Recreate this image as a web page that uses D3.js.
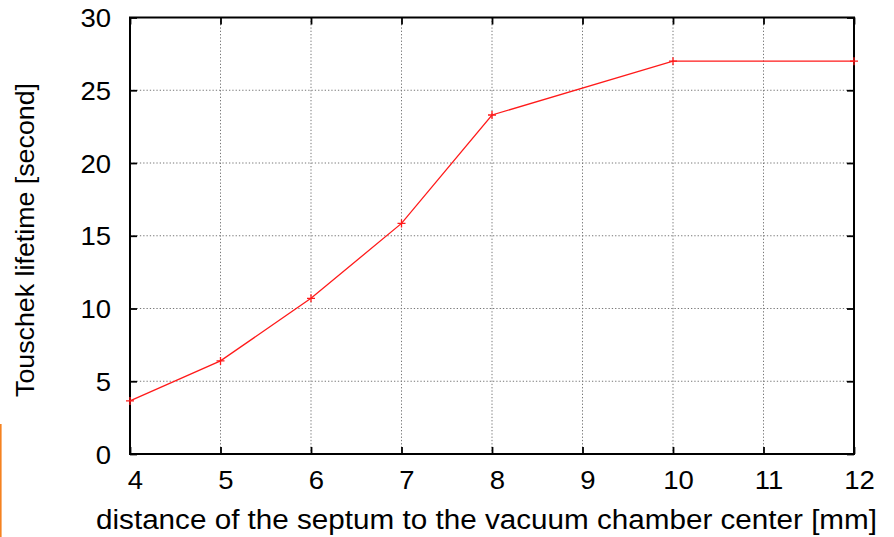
<!DOCTYPE html>
<html>
<head>
<meta charset="utf-8">
<script src="https://cdn.jsdelivr.net/npm/d3@7"></script>
<style>
  body { margin: 0; background: #fff; }
  text { font-family: "Liberation Sans", Arial, sans-serif; fill: #000; }
</style>
</head>
<body>
<div id="chart"></div>
<script>
// septum distance [mm] vs Touschek lifetime [s]
const distances = [4, 5, 6, 7, 8, 10, 12];
const lifetimes = [3.65, 6.4, 10.7, 15.85, 23.3, 27.0, 27.0];
const xTicks = [4, 5, 6, 7, 8, 9, 10, 11, 12];
const yTicks = [0, 5, 10, 15, 20, 25, 30];

const width = 894, height = 537;
const plotLeft = 130, plotRight = 854, plotTop = 17.5, plotBottom = 454;

const svg = d3.select('#chart').append('svg')
    .attr('width', width)
    .attr('height', height);

// little orange strip on the left edge of the picture
svg.append('rect')
    .attr('x', 0).attr('y', 424)
    .attr('width', 1.6).attr('height', height - 424)
    .attr('fill', '#f58220');

const x = d3.scaleLinear().domain([4, 12]).range([plotLeft, plotRight]);
const y = d3.scaleLinear().domain([0, 30]).range([plotBottom, plotTop]);

// grid
svg.append('g').selectAll('line')
    .data(xTicks.slice(1, -1))
    .enter().append('line')
    .attr('x1', d => x(d)).attr('x2', d => x(d))
    .attr('y1', plotTop).attr('y2', plotBottom)
    .attr('stroke', '#777').attr('stroke-width', 1)
    .attr('stroke-dasharray', '1.3,2');

svg.append('g').selectAll('line')
    .data(yTicks.slice(1, -1))
    .enter().append('line')
    .attr('y1', d => y(d)).attr('y2', d => y(d))
    .attr('x1', plotLeft).attr('x2', plotRight)
    .attr('stroke', '#777').attr('stroke-width', 1)
    .attr('stroke-dasharray', '1.3,2');

// axes, ticks inward on all four sides
const tl = 7;
const bottomAxis = d3.axisBottom(x).tickValues(xTicks).tickSize(-tl).tickFormat(d3.format('d'));
const topAxis = d3.axisTop(x).tickValues(xTicks).tickSize(-tl).tickFormat('');
const leftAxis = d3.axisLeft(y).tickValues(yTicks).tickSize(-tl).tickFormat(d3.format('d'));
const rightAxis = d3.axisRight(y).tickValues(yTicks).tickSize(-tl).tickFormat('');

const gb = svg.append('g').attr('transform', `translate(0,${plotBottom})`).call(bottomAxis);
const gt = svg.append('g').attr('transform', `translate(0,${plotTop})`).call(topAxis);
const gl = svg.append('g').attr('transform', `translate(${plotLeft},0)`).call(leftAxis);
const gr = svg.append('g').attr('transform', `translate(${plotRight},0)`).call(rightAxis);

[gb, gt, gl, gr].forEach(g => {
    g.select('.domain').remove();
    g.selectAll('.tick line').attr('stroke', '#000').attr('stroke-width', 1.8);
});

gb.selectAll('.tick text')
    .attr('y', 0).attr('dy', 0)
    .attr('transform', 'translate(5,35) scale(1.1,1)')
    .style('font-size', '25px');
gl.selectAll('.tick text')
    .attr('x', 0).attr('dy', 0)
    .attr('text-anchor', 'end')
    .attr('transform', 'translate(-19,9) scale(1.1,1)')
    .style('font-size', '25px');

// frame
svg.append('rect')
    .attr('x', plotLeft).attr('y', plotTop)
    .attr('width', plotRight - plotLeft).attr('height', plotBottom - plotTop)
    .attr('fill', 'none')
    .attr('stroke', '#000').attr('stroke-width', 2);

// data line
const line = d3.line().x((d, i) => x(distances[i])).y(d => y(d));
svg.append('path')
    .datum(lifetimes)
    .attr('d', line)
    .attr('fill', 'none')
    .attr('stroke', '#ff1a1a')
    .attr('stroke-width', 1.3);

// plus markers
const ms = 4;
svg.append('g').selectAll('path')
    .data(lifetimes)
    .enter().append('path')
    .attr('d', (d, i) => {
        const px = x(distances[i]), py = y(d);
        return `M${px - ms},${py}H${px + ms}M${px},${py - ms}V${py + ms}`;
    })
    .attr('stroke', '#ff1a1a')
    .attr('stroke-width', 1.3);

// axis titles
svg.append('text')
    .attr('x', 96).attr('y', 529)
    .attr('textLength', 781)
    .attr('lengthAdjust', 'spacingAndGlyphs')
    .style('font-size', '27px')
    .text('distance of the septum to the vacuum chamber center [mm]');

svg.append('text')
    .attr('transform', 'translate(34,397) rotate(-90)')
    .attr('textLength', 314)
    .attr('lengthAdjust', 'spacingAndGlyphs')
    .style('font-size', '25px')
    .text('Touschek lifetime [second]');
</script>
</body>
</html>
